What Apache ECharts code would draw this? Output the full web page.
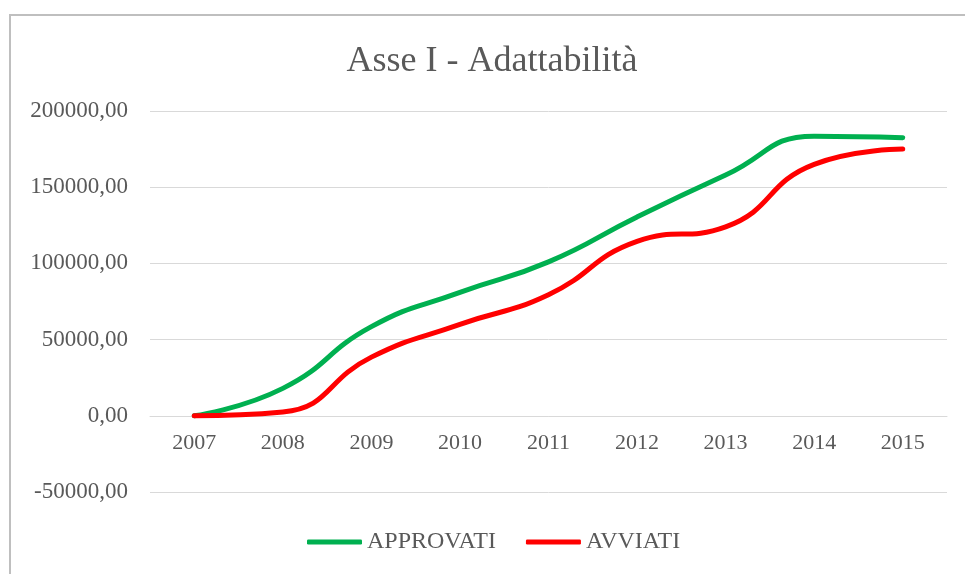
<!DOCTYPE html>
<html>
<head>
<meta charset="utf-8">
<script src="https://cdn.jsdelivr.net/npm/echarts@6/dist/echarts.min.js"></script>
<style>
  html, body { margin: 0; padding: 0; background: #fff; }
  #chart { width: 965px; height: 574px; }
</style>
</head>
<body>
<div id="chart"></div>
<script>
// anni
var years = ['2007', '2008', '2009', '2010', '2011', '2012', '2013', '2014', '2015'];
// importi approvati
var approvati = [0, 18000, 58500, 81000, 101000, 130500, 158000, 183500, 182500];
// importi avviati
var avviati = [0, 2500, 38500, 60000, 79500, 114500, 124000, 165000, 175000];

var textColor = '#595959';
var serif = '"Liberation Serif", "DejaVu Serif", serif';

var chart = echarts.init(document.getElementById('chart'));

var option = {
    animation: false,
    title: {
        text: 'Asse I - Adattabilità',
        left: 492,
        textAlign: 'center',
        top: 44,
        padding: 0,
        textStyle: {
            fontFamily: serif,
            fontSize: 36,
            fontWeight: 'normal',
            color: textColor
        }
    },
    graphic: [{
        type: 'rect',
        shape: { x: 10, y: 15, width: 1000, height: 600 },
        style: { fill: 'none', stroke: '#bfbfbf', lineWidth: 2 },
        silent: true
    }],
    legend: {
        left: 307,
        top: 530,
        padding: 0,
        itemWidth: 55,
        itemHeight: 5,
        itemGap: 30,
        icon: 'roundRect',
        textStyle: {
            fontFamily: serif,
            fontSize: 24,
            color: textColor
        },
        data: ['APPROVATI', 'AVVIATI']
    },
    grid: {
        left: 150,
        right: 18,
        top: 111,
        bottom: 82,
        containLabel: false
    },
    xAxis: {
        type: 'category',
        data: years,
        boundaryGap: true,
        // asse orizzontale sullo zero
        offset: -76,
        axisLine: { onZero: false, lineStyle: { color: '#d9d9d9', width: 1 } },
        axisTick: { show: false },
        axisLabel: {
            margin: 16,
            fontFamily: serif,
            fontSize: 22,
            color: textColor
        }
    },
    yAxis: {
        type: 'value',
        min: -50000,
        max: 200000,
        interval: 50000,
        axisLine: { show: false },
        axisTick: { show: false },
        splitLine: { lineStyle: { color: '#d9d9d9', width: 1 } },
        axisLabel: {
            margin: 22,
            fontFamily: serif,
            fontSize: 23,
            color: textColor,
            formatter: function (v) {
                return v.toFixed(2).replace('.', ',');
            }
        }
    },
    series: [
        {
            name: 'APPROVATI',
            type: 'line',
            data: approvati,
            smooth: true,
            symbol: 'none',
            color: '#00b050',
            lineStyle: { width: 5, color: '#00b050', cap: 'round' }
        },
        {
            name: 'AVVIATI',
            type: 'line',
            data: avviati,
            smooth: true,
            symbol: 'none',
            color: '#ff0000',
            lineStyle: { width: 5, color: '#ff0000', cap: 'round' }
        }
    ]
};

chart.setOption(option, true);
</script>
</body>
</html>
